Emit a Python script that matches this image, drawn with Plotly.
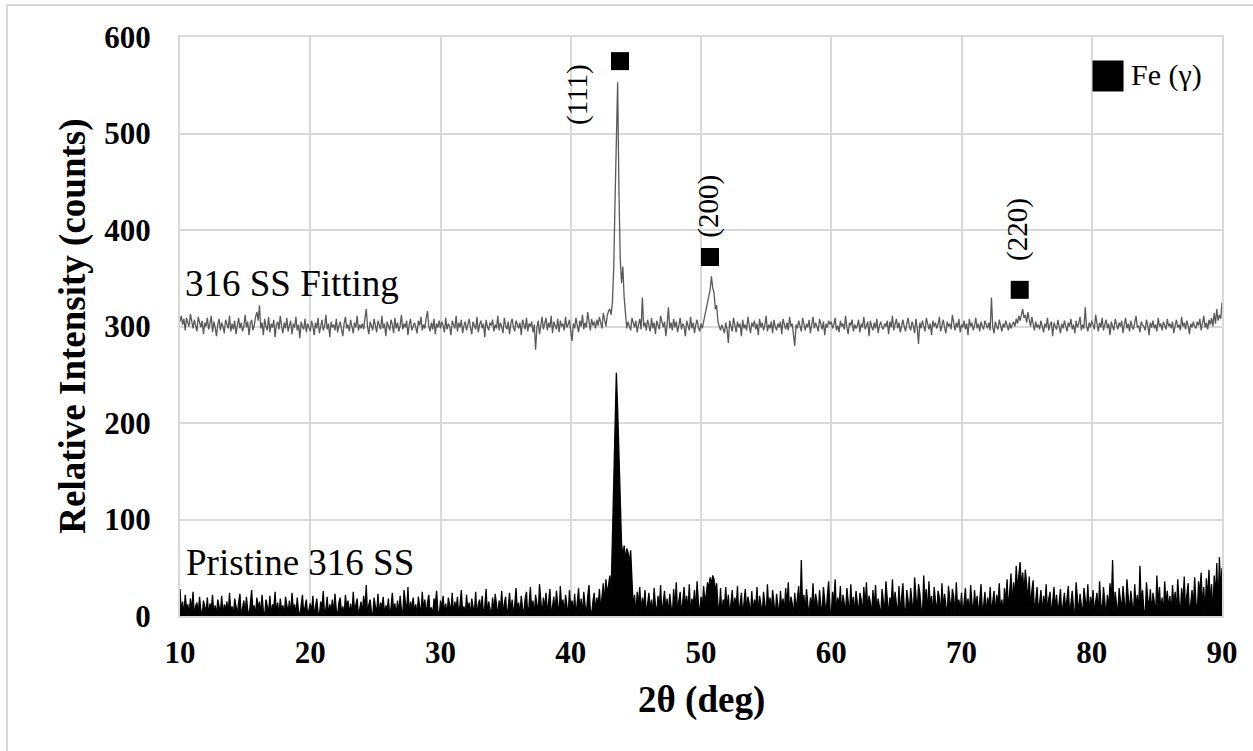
import numpy as np
import plotly.graph_objects as go

# ---------------- data (0.1 deg sampling, 10..90 deg) ----------------
fitting_counts = [
    305, 311, 302, 308, 296, 309, 304, 300, 313, 306, 298, 307, 301, 295, 310, 303, 299, 306, 292, 304,
    300, 309, 297, 303, 311, 294, 305, 299, 290, 302, 308, 296, 304, 300, 293, 307, 301, 298, 311, 295,
    303, 297, 306, 292, 301, 309, 298, 304, 295, 300, 312, 299, 305, 291, 303, 307, 296, 301, 310, 315,
    306, 322, 298, 304, 291, 308, 300, 296, 310, 294, 303, 299, 307, 289, 302, 305, 297, 311, 300, 293,
    304, 298, 309, 295, 301, 306, 292, 303, 299, 310, 296, 302, 288, 305, 300, 297, 308, 294, 303, 299,
    295, 306, 301, 291, 304, 298, 309, 293, 302, 307, 296, 300, 312, 297, 303, 289, 305, 299, 302, 296,
    308, 294, 301, 305, 297, 290, 303, 310, 298, 302, 295, 307, 300, 293, 304, 299, 311, 296, 302, 298,
    303, 297, 309, 318, 299, 292, 305, 301, 296, 308, 300, 294, 306, 302, 297, 311, 298, 303, 290, 305,
    300, 296, 307, 302, 293, 309, 298, 304, 295, 301, 312, 297, 303, 299, 306, 291, 302, 308, 296, 300,
    304, 299, 293, 306, 301, 310, 296, 302, 298, 309, 316, 300, 295, 304, 297, 308, 292, 303, 299, 306,
    298, 305, 301, 294, 309, 297, 303, 300, 291, 306, 302, 298, 311, 295, 304, 299, 307, 293, 301, 305,
    296, 303, 308, 299, 292, 305, 301, 297, 310, 294, 302, 306, 298, 303, 289, 307, 300, 296, 304, 301,
    307, 295, 302, 298, 311, 296, 304, 300, 293, 309, 301, 297, 305, 292, 303, 308, 299, 295, 306, 302,
    298, 304, 291, 307, 301, 297, 309, 295, 303, 300, 305, 294, 302, 276, 299, 306, 292, 303, 310, 297,
    302, 309, 296, 304, 299, 311, 293, 305, 301, 297, 308, 294, 306, 300, 303, 296, 310, 299, 302, 307,
    295, 285, 303, 298, 309, 301, 294, 306, 300, 312, 297, 304, 299, 315, 302, 296, 308, 301, 305, 298,
    307, 301, 310, 304, 298, 314, 306, 300, 311, 316, 318, 312, 325, 360, 430, 510, 553, 440, 370, 345,
    362, 330, 312, 298, 305, 301, 296, 309, 303, 299, 306, 294, 302, 308, 297, 330, 300, 304, 296, 307,
    301, 295, 309, 298, 304, 292, 306, 300, 297, 311, 303, 299, 305, 290, 302, 320, 298, 304, 296, 308,
    299, 305, 294, 302, 309, 297, 303, 300, 290, 306, 301, 296, 310, 298, 304, 293, 302, 307, 299, 295,
    303, 298, 305, 312, 318, 322, 330, 338, 352, 340, 335, 318, 322, 305, 300, 296, 302, 298, 293, 304,
    297, 283, 306, 300, 295, 309, 301, 294, 305, 299, 303, 290, 307, 298, 302, 296, 310, 300, 293, 304,
    300, 306, 297, 303, 291, 308, 299, 304, 296, 301, 311, 295, 302, 298, 305, 293, 307, 300, 296, 303,
    299, 305, 292, 308, 301, 297, 304, 296, 310, 300, 303, 294, 280, 302, 298, 306, 300, 295, 309, 301,
    296, 303, 299, 307, 293, 302, 310, 298, 304, 300, 295, 308, 301, 297, 305, 291, 303, 299, 306, 302,
    305, 298, 302, 309, 296, 301, 294, 306, 300, 303, 297, 311, 299, 292, 304, 301, 307, 295, 302, 298,
    301, 307, 294, 303, 299, 310, 297, 302, 305, 290, 306, 300, 296, 304, 298, 308, 293, 301, 305, 299,
    297, 303, 300, 306, 292, 305, 299, 311, 296, 302, 308, 298, 304, 294, 301, 307, 300, 295, 303, 309,
    300, 296, 305, 301, 293, 308, 299, 282, 304, 298, 306, 301, 295, 309, 302, 297, 303, 291, 306, 300,
    304, 298, 302, 310, 295, 301, 307, 299, 293, 305, 300, 303, 297, 312, 301, 296, 304, 299, 308, 294,
    302, 299, 306, 297, 303, 291, 308, 300, 304, 296, 301, 309, 298, 303, 295, 305, 300, 297, 306, 301,
    298, 304, 296, 330, 299, 293, 305, 300, 297, 307, 302, 295, 303, 299, 306, 301, 296, 304, 298, 302,
    305, 300, 308, 303, 311, 306, 314, 318, 309, 312, 304, 315, 307, 300, 310, 303, 296, 305, 299, 302,
    297, 306, 301, 294, 303, 299, 309, 296, 302, 305, 290, 304, 300, 297, 307, 301, 293, 303, 298, 306,
    301, 295, 304, 300, 308, 297, 302, 293, 306, 299, 303, 310, 296, 302, 298, 320, 300, 295, 304, 299,
    306, 300, 297, 312, 301, 295, 304, 299, 309, 296, 302, 307, 298, 303, 291, 305, 300, 296, 308, 302,
    297, 304, 300, 306, 293, 302, 309, 298, 303, 295, 306, 300, 297, 304, 311, 299, 301, 294, 305, 302,
    300, 296, 307, 301, 291, 304, 299, 306, 298, 302, 295, 309, 300, 303, 296, 305, 301, 297, 308, 300,
    303, 298, 305, 293, 301, 307, 299, 302, 296, 310, 300, 304, 297, 306, 301, 292, 303, 299, 305, 300,
    298, 305, 301, 308, 296, 303, 311, 299, 304, 297, 307, 302, 309, 300, 314, 303, 318, 306, 312, 308,
    325,
]

pristine_counts = [
    28, 3, 15, 0, 22, 8, 12, 1, 18, 5, 25, 0, 10, 14, 2, 20, 6, 0, 16, 9,
    4, 19, 0, 13, 7, 22, 2, 11, 0, 17, 8, 3, 21, 0, 12, 6, 15, 1, 24, 5,
    10, 0, 18, 7, 2, 14, 23, 0, 9, 16, 3, 20, 6, 0, 13, 27, 4, 11, 0, 19,
    7, 15, 1, 22, 5, 0, 17, 10, 3, 21, 0, 12, 8, 25, 2, 14, 0, 18, 6, 11,
    0, 20, 9, 3, 16, 0, 24, 7, 12, 1, 19, 5, 0, 14, 22, 2, 10, 17, 0, 8,
    13, 3, 21, 0, 11, 18, 4, 0, 15, 9, 26, 1, 7, 20, 0, 12, 5, 17, 2, 23,
    6, 0, 14, 19, 3, 10, 0, 22, 8, 16, 1, 13, 0, 25, 5, 11, 18, 0, 9, 15,
    2, 21, 7, 32, 0, 12, 17, 4, 0, 19, 10, 3, 23, 0, 14, 8, 20, 1, 11, 6,
    18, 0, 9, 24, 5, 13, 0, 16, 2, 21, 7, 0, 27, 11, 3, 30, 0, 15, 8, 19,
    4, 12, 0, 20, 10, 1, 25, 6, 17, 0, 14, 22, 3, 9, 0, 18, 12, 26, 5, 0,
    16, 8, 21, 2, 13, 0, 19, 11, 4, 24, 0, 15, 7, 20, 1, 12, 27, 3, 10, 0,
    22, 6, 14, 0, 18, 9, 3, 25, 0, 12, 17, 5, 21, 0, 10, 28, 2, 15, 8, 0,
    19, 4, 23, 11, 0, 16, 7, 26, 1, 13, 20, 0, 9, 24, 3, 17, 0, 12, 29, 6,
    14, 0, 21, 8, 2, 18, 25, 0, 11, 30, 5, 16, 0, 22, 9, 3, 33, 12, 0, 19,
    7, 24, 1, 15, 28, 0, 10, 20, 4, 26, 13, 0, 31, 8, 17, 2, 22, 11, 0, 27,
    9, 16, 3, 23, 0, 14, 29, 5, 18, 0, 25, 11, 2, 20, 32, 7, 0, 15, 24, 4,
    19, 10, 28, 6, 21, 34, 13, 38, 22, 30, 42, 26, 85, 150, 210, 252, 215, 160, 118, 75,
    62, 73, 58, 70, 66, 55, 68, 40, 8, 22, 0, 25, 12, 30, 3, 19, 9, 27, 1, 12,
    24, 5, 17, 0, 29, 11, 3, 21, 8, 32, 0, 14, 26, 6, 18, 1, 23, 10, 0, 28,
    7, 35, 2, 16, 25, 0, 13, 30, 9, 21, 4, 33, 0, 18, 11, 27, 5, 36, 14, 0,
    20, 8, 31, 15, 22, 35, 28, 40, 33, 42, 38, 25, 34, 12, 3, 29, 0, 17, 10, 30,
    6, 22, 0, 14, 27, 4, 19, 9, 31, 1, 16, 24, 0, 11, 28, 5, 20, 13, 0, 26,
    3, 17, 9, 30, 0, 21, 12, 2, 25, 15, 0, 33, 8, 19, 4, 27, 11, 0, 23, 14,
    0, 26, 7, 18, 3, 29, 10, 35, 1, 20, 13, 0, 24, 6, 17, 31, 0, 58, 9, 22,
    4, 28, 12, 0, 19, 8, 34, 2, 23, 15, 0, 27, 10, 5, 30, 17, 1, 21, 36, 7,
    0, 25, 14, 38, 3, 19, 9, 31, 0, 22, 12, 4, 29, 16, 1, 33, 8, 20, 0, 26,
    11, 2, 24, 17, 0, 30, 9, 35, 5, 21, 14, 0, 27, 8, 32, 3, 18, 10, 0, 28,
    15, 4, 36, 22, 0, 19, 11, 38, 6, 25, 13, 0, 31, 2, 20, 34, 9, 0, 27, 16,
    5, 29, 12, 0, 40, 18, 3, 33, 24, 8, 0, 42, 15, 28, 1, 36, 10, 21, 0, 30,
    13, 2, 26, 19, 0, 34, 7, 23, 11, 0, 31, 15, 4, 28, 20, 0, 35, 9, 17, 3,
    24, 0, 12, 29, 6, 18, 0, 32, 14, 3, 27, 9, 21, 0, 16, 33, 5, 11, 25, 0,
    19, 8, 30, 2, 15, 26, 0, 22, 11, 34, 4, 17, 0, 29, 13, 38, 6, 24, 44, 10,
    35, 18, 52, 28, 40, 56, 30, 45, 22, 48, 33, 15, 41, 8, 26, 37, 2, 19, 30, 6,
    14, 27, 0, 21, 9, 33, 3, 18, 25, 0, 12, 30, 7, 22, 1, 16, 28, 0, 10, 24,
    5, 19, 31, 0, 13, 26, 8, 0, 35, 17, 2, 23, 11, 0, 29, 14, 6, 33, 0, 20,
    9, 27, 1, 15, 24, 0, 36, 12, 4, 30, 18, 0, 22, 7, 34, 13, 58, 3, 25, 10,
    0, 29, 16, 5, 31, 11, 0, 38, 20, 3, 26, 14, 0, 33, 8, 22, 1, 52, 12, 27,
    6, 0, 35, 18, 9, 28, 2, 24, 15, 0, 42, 11, 30, 4, 19, 0, 36, 13, 26, 7,
    21, 0, 32, 10, 25, 3, 38, 16, 0, 29, 12, 41, 5, 22, 34, 0, 18, 27, 9, 40,
    14, 2, 36, 23, 45, 8, 30, 0, 39, 17, 48, 11, 33, 0, 42, 20, 55, 6, 61, 25,
    50,
]

# Fe (gamma) reflections: marker positions, heights and labels
peak_two_theta = [43.78, 50.69, 74.47]
peak_marker_y = [575, 372, 338]
peak_labels = ["(111)", "(200)", "(220)"]
label_two_theta = [40.56, 50.6, 74.26]
label_y = [540, 425, 401]

x_ticks = [10, 20, 30, 40, 50, 60, 70, 80, 90]
y_ticks = [0, 100, 200, 300, 400, 500, 600]

# ---------------- figure ----------------
SERIF = "Liberation Serif, Times New Roman, serif"
GRID = "#d9d9d9"

x_fit = np.linspace(10, 90, len(fitting_counts))
x_pri = np.linspace(10, 90, len(pristine_counts))

fig = go.Figure()
fig.add_trace(go.Scatter(x=x_fit, y=fitting_counts, mode="lines",
                         line=dict(color="#595959", width=1.3), showlegend=False,
                         name="316 SS Fitting"))
fig.add_trace(go.Scatter(x=x_pri, y=pristine_counts, mode="lines",
                         line=dict(color="#000000", width=1.3), showlegend=False,
                         fill="tozeroy", fillcolor="#000000",
                         name="Pristine 316 SS"))
fig.add_trace(go.Scatter(x=peak_two_theta, y=peak_marker_y, mode="markers",
                         marker=dict(symbol="square", size=18, color="black"),
                         showlegend=False, name="Fe (γ)"))
# legend-like marker
fig.add_trace(go.Scatter(x=[81.25], y=[559.6], mode="markers",
                         marker=dict(symbol="square", size=31, color="black"),
                         showlegend=False, hoverinfo="skip"))

annotations = []
for lx, ly, lt in zip(label_two_theta, label_y, peak_labels):
    annotations.append(dict(x=lx, y=ly, xref="x", yref="y", text=lt, showarrow=False,
                            textangle=-90, font=dict(family=SERIF, size=29, color="black"),
                            xanchor="center", yanchor="middle"))
annotations += [
    dict(x=82.86, y=560.6, xref="x", yref="y", text="Fe (γ)", showarrow=False,
         xanchor="left", yanchor="middle", font=dict(family=SERIF, size=30, color="black")),
    dict(x=10.2, y=345, xref="x", yref="y", text="316 SS Fitting", showarrow=False,
         xanchor="left", yanchor="middle", font=dict(family=SERIF, size=37, color="black")),
    dict(x=10.3, y=55, xref="x", yref="y", text="Pristine 316 SS", showarrow=False,
         xanchor="left", yanchor="middle", font=dict(family=SERIF, size=37, color="black")),
    dict(x=0.5, y=-0.145, xref="paper", yref="paper", text="<b>2θ (deg)</b>", showarrow=False,
         xanchor="center", yanchor="middle", font=dict(family=SERIF, size=37, color="black")),
    dict(x=-0.1035, y=0.5, xref="paper", yref="paper", text="<b>Relative Intensity (counts)</b>",
         showarrow=False, textangle=-90, xanchor="center", yanchor="middle",
         font=dict(family=SERIF, size=37, color="black")),
]

fig.update_layout(
    width=1253, height=751,
    margin=dict(l=180, r=31, t=37, b=135),
    paper_bgcolor="white", plot_bgcolor="white",
    annotations=annotations,
    shapes=[dict(type="rect", xref="paper", yref="paper",
                 x0=-0.166, x1=1.2, y0=-0.5, y1=1.0553,
                 line=dict(color=GRID, width=2), fillcolor="rgba(0,0,0,0)", layer="below")],
)
fig.update_xaxes(range=[10, 90], tickvals=x_ticks, ticktext=[str(t) for t in x_ticks],
                 showgrid=True, gridcolor=GRID, gridwidth=2, zeroline=False,
                 showline=True, linecolor=GRID, linewidth=2, mirror=True, ticks="",
                 ticklabelstandoff=8,
                 tickfont=dict(family=SERIF, size=31, color="black", weight="bold"))
fig.update_yaxes(range=[0, 600], tickvals=y_ticks, ticktext=[str(t) for t in y_ticks],
                 showgrid=True, gridcolor=GRID, gridwidth=2, zeroline=False,
                 showline=True, linecolor=GRID, linewidth=2, mirror=True, ticks="",
                 ticklabelstandoff=21,
                 tickfont=dict(family=SERIF, size=31, color="black", weight="bold"))

fig.write_html("out.html")
